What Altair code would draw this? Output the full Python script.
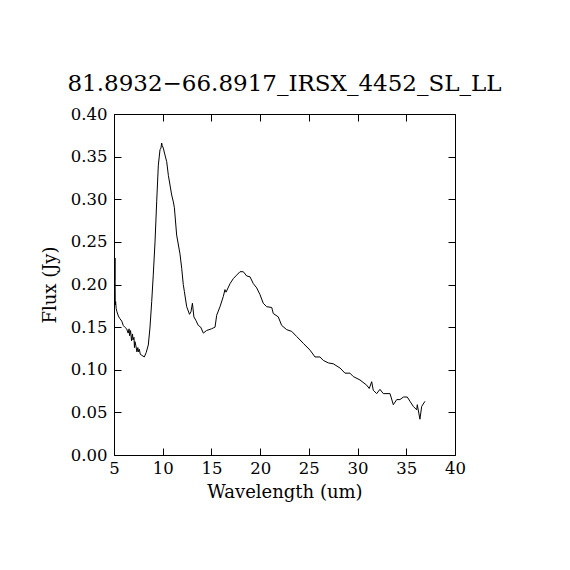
import altair as alt
import pandas as pd

wavelength = [5.08, 5.10, 5.13, 5.17, 5.22, 5.30, 5.45, 5.60, 5.80, 5.95, 6.10, 6.30, 6.45, 6.55, 6.60, 6.70,
              6.80, 6.90, 6.95, 7.05, 7.10, 7.15, 7.25, 7.35, 7.45, 7.50, 7.60, 7.70, 7.85, 8.11, 8.30, 8.52,
              8.69, 8.87, 9.03, 9.21, 9.38, 9.55, 9.72, 9.82, 9.89, 9.95, 10.06, 10.23, 10.41, 10.58, 10.92,
              11.09, 11.20, 11.43, 11.77, 11.95, 12.11, 12.22, 12.46, 12.75, 12.90, 13.05, 13.20, 13.40,
              13.65, 13.90, 14.17, 14.50, 15.00, 15.19, 15.37, 15.54, 15.88, 16.22, 16.39, 16.50, 16.91,
              17.25, 17.59, 17.93, 18.27, 18.62, 18.96, 19.30, 19.65, 19.99, 20.32, 20.67, 21.19, 21.35,
              21.86, 22.21, 22.73, 23.24, 23.75, 24.43, 25.12, 25.63, 26.14, 26.48, 27.00, 27.51, 28.20,
              28.71, 29.22, 29.56, 30.25, 30.93, 31.20, 31.45, 31.61, 31.96, 32.30, 32.64, 33.33, 33.67,
              34.02, 34.35, 34.70, 35.10, 35.38, 35.72, 36.07, 36.13, 36.40, 36.58, 36.92]
flux = [0.205, 0.231, 0.176, 0.180, 0.172, 0.168, 0.163, 0.160, 0.157, 0.152, 0.150, 0.148, 0.143, 0.148,
        0.140, 0.146, 0.134, 0.142, 0.135, 0.138, 0.126, 0.133, 0.128, 0.121, 0.126, 0.121, 0.124, 0.118,
        0.117, 0.115, 0.120, 0.129, 0.149, 0.180, 0.211, 0.250, 0.297, 0.340, 0.358, 0.360, 0.366, 0.363,
        0.360, 0.352, 0.344, 0.328, 0.305, 0.297, 0.290, 0.258, 0.236, 0.219, 0.200, 0.192, 0.174, 0.165,
        0.168, 0.178, 0.162, 0.158, 0.152, 0.150, 0.143, 0.146, 0.148, 0.149, 0.150, 0.164, 0.174, 0.186,
        0.194, 0.191, 0.201, 0.207, 0.211, 0.215, 0.215, 0.210, 0.209, 0.201, 0.196, 0.188, 0.178, 0.174,
        0.173, 0.166, 0.162, 0.152, 0.147, 0.145, 0.139, 0.131, 0.123, 0.115, 0.115, 0.111, 0.108, 0.107,
        0.102, 0.096, 0.096, 0.092, 0.088, 0.082, 0.078, 0.086, 0.076, 0.072, 0.077, 0.072, 0.072, 0.059,
        0.065, 0.065, 0.068, 0.068, 0.063, 0.057, 0.053, 0.059, 0.042, 0.057, 0.063]

x_ticks = [5, 10, 15, 20, 25, 30, 35, 40]
y_ticks = [0.0, 0.05, 0.10, 0.15, 0.20, 0.25, 0.30, 0.35, 0.40]

df = pd.DataFrame({"wavelength": wavelength, "flux": flux})

FONT = "DejaVu Serif"

xscale = alt.Scale(domain=[5, 40], nice=False, zero=False)
yscale = alt.Scale(domain=[0, 0.4], nice=False, zero=False)

tick_axis = dict(domain=False, grid=False, tickSize=7, offset=-7, tickColor="black", tickWidth=1,
                 labelFont=FONT, labelFontSize=16.5, labelColor="black")
title_axis = dict(titleFont=FONT, titleFontSize=18, titleFontWeight="normal", titleColor="black")

line = alt.Chart(df).mark_line(color="black", strokeWidth=1, interpolate="linear").encode(
    x=alt.X("wavelength:Q", scale=xscale,
            axis=alt.Axis(orient="bottom", values=x_ticks, format="d", title="Wavelength (um)",
                          labelPadding=5, labelFlush=False, titlePadding=7, **tick_axis, **title_axis)),
    y=alt.Y("flux:Q", scale=yscale,
            axis=alt.Axis(orient="left", values=y_ticks, format=".2f", title="Flux (Jy)",
                          labelPadding=7, labelFlush=False, titlePadding=11, **tick_axis, **title_axis)),
)

frame = alt.Chart(df).mark_line(opacity=0).encode(
    x=alt.X("wavelength:Q", scale=xscale,
            axis=alt.Axis(orient="top", values=x_ticks, labels=False, title=None, **tick_axis)),
    y=alt.Y("flux:Q", scale=yscale,
            axis=alt.Axis(orient="right", values=y_ticks, labels=False, title=None, **tick_axis)),
)

chart = alt.layer(line, frame).resolve_axis(x="independent", y="independent").properties(
    width=341, height=341,
    background="white",
    autosize=alt.AutoSizeParams(type="none"),
    padding={"left": 106, "top": 106, "right": 100, "bottom": 100},
    title=alt.TitleParams("81.8932\u221266.8917_IRSX_4452_SL_LL", font=FONT, fontSize=23,
                          fontWeight="normal", color="black", offset=10, anchor="middle"),
).configure_view(stroke="black", strokeWidth=1, strokeOpacity=1)

chart.save("out.html", embed_options={"renderer": "svg", "actions": False})
